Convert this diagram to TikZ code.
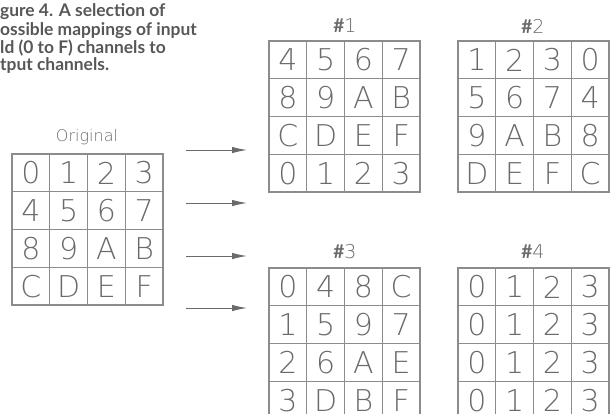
\documentclass[tikz,border=0pt]{standalone}
\usepackage{fontspec}
\setmainfont{Lato}
\newfontfamily\gridfont{DejaVu Sans ExtraLight}
\usetikzlibrary{arrows.meta}

\definecolor{inkgray}{HTML}{6A6A6A}
\definecolor{linegray}{HTML}{8C8C8C}
\definecolor{capgray}{HTML}{575757}

% one 4x4 grid of channel cells, #1 name, (#2,#3) top-left corner, #4 rows
\newcommand\chgrid[4]{%
  \foreach \row [count=\r] in {#4} {
    \foreach \ch [count=\c] in \row {
      \node[cell] (#1-\r-\c) at (#2+\c*37.75-18.875, #3+\r*37.75-18.875) {\ch};
    }
  }
}

\begin{document}
\begin{tikzpicture}[
    x=1pt, y=-1pt,
    cell/.style={rectangle, draw=linegray, line width=1.2pt, minimum size=37.75pt, inner sep=0pt, text=inkgray, font=\gridfont\fontsize{30}{30}\selectfont},
    title/.style={text=inkgray, font=\gridfont\fontsize{19}{19}\selectfont},
    caption/.style={anchor=base west, inner sep=0pt, text=capgray, font=\bfseries\fontsize{17.4}{18}\selectfont},
    maparrow/.style={-{Latex[length=15pt, width=6.5pt]}, line width=1pt, draw=inkgray}
]
\useasboundingbox (0,0) rectangle (612,413);

% ============ CAPTION ============
\node[caption] (cap1) at (0,16) {gure 4. A selection of};
\node[caption] (cap2) at (0,35) {ossible mappings of input};
\node[caption] (cap3) at (0,53) {ld (0 to F) channels to};
\node[caption] (cap4) at (0,70) {tput channels.};

% ============ ORIGINAL ============
\node[text=inkgray, font=\gridfont\fontsize{16}{16}\selectfont] (orig-title) at (87,137) {Original};
\chgrid{orig}{12}{154}{{0,1,2,3},{4,5,6,7},{8,9,A,B},{C,D,E,F}}

% ============ MAPPINGS ============
\node[title] (map1-title) at (345,26) {{\rmfamily\bfseries\#}1};
\chgrid{map1}{269}{41}{{4,5,6,7},{8,9,A,B},{C,D,E,F},{0,1,2,3}}

\node[title] (map2-title) at (533,26) {{\rmfamily\bfseries\#}2};
\chgrid{map2}{458}{41}{{1,2,3,0},{5,6,7,4},{9,A,B,8},{D,E,F,C}}

\node[title] (map3-title) at (345,252) {{\rmfamily\bfseries\#}3};
\chgrid{map3}{269}{268}{{0,4,8,C},{1,5,9,7},{2,6,A,E},{3,D,B,F}}

\node[title] (map4-title) at (533,252) {{\rmfamily\bfseries\#}4};
\chgrid{map4}{458}{268}{{0,1,2,3},{0,1,2,3},{0,1,2,3},{0,1,2,3}}

% ============ ARROWS ============
\foreach \y [count=\k] in {150,203,256,308} {
  \coordinate (arr-s-\k) at (186,\y);
  \coordinate (arr-e-\k) at (247,\y);
  \draw[maparrow] (arr-s-\k) -- (arr-e-\k);
}

\end{tikzpicture}
\end{document}
